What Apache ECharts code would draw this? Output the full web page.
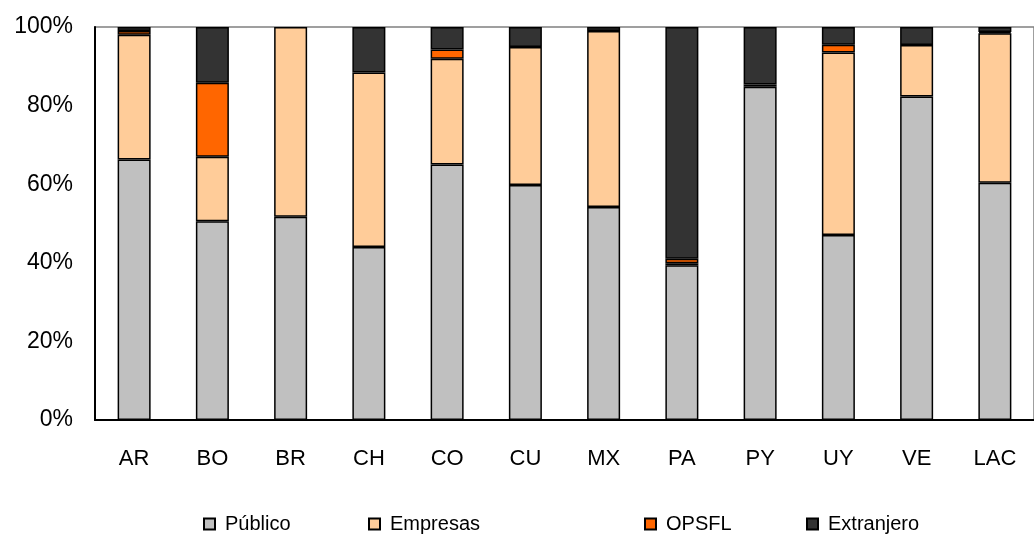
<!DOCTYPE html>
<html>
<head>
<meta charset="utf-8">
<script src="https://cdn.jsdelivr.net/npm/echarts@6/dist/echarts.min.js"></script>
<style>
html,body{margin:0;padding:0;background:#fff;}
#main{width:1034px;height:534px;}
</style>
</head>
<body>
<div id="main"></div>
<script>
const categories = ['AR','BO','BR','CH','CO','CU','MX','PA','PY','UY','VE','LAC'];
const publico    = [66.3, 50.6, 51.7, 44.0, 65.0, 59.8, 54.2, 39.4, 84.8, 47.1, 82.3, 60.4];
const empresas   = [31.7, 16.4, 48.3, 44.4, 26.9, 35.1, 44.8, 0.5, 0.6, 46.4, 13.1, 38.0];
const opsfl      = [1.0, 18.8, 0, 0, 2.4, 0, 0, 1.1, 0, 2.0, 0, 0.3];
const extranjero = [1.0, 14.2, 0, 11.6, 5.7, 5.1, 1.0, 59.0, 14.6, 4.5, 4.6, 1.3];
const seriesNames = ['Público','Empresas','OPSFL','Extranjero'];
const yTicks = [0, 20, 40, 60, 80, 100];

const colors = ['#C0C0C0','#FFCC99','#FF6600','#333333'];
const allData = [publico, empresas, opsfl, extranjero];
const legendLefts = [203, 368, 644, 806];
const font = 'Liberation Sans, Arial, sans-serif';

const chart = echarts.init(document.getElementById('main'), null, {renderer:'canvas'});
chart.setOption({
  animation: false,
  backgroundColor: '#fff',
  grid: {
    left: 95, top: 27, width: 948, bottom: 114,
    show: true, borderColor: '#808080', borderWidth: 1.5, backgroundColor: 'transparent'
  },
  legend: seriesNames.map((n, i) => ({
    data: [n],
    left: legendLefts[i],
    top: 514,
    icon: 'rect',
    itemWidth: 11,
    itemHeight: 11,
    padding: 0,
    textStyle: {fontFamily: font, fontSize: 20, color: '#000', padding: [0,0,0,5]},
    selectedMode: false
  })),
  xAxis: {
    type: 'category',
    data: categories,
    axisLine: {lineStyle: {color: '#000', width: 2}},
    axisTick: {show: false},
    axisLabel: {fontFamily: font, fontSize: 22, color: '#000', margin: 28},
    splitLine: {show: false}
  },
  yAxis: {
    type: 'value',
    min: yTicks[0], max: yTicks[yTicks.length-1], interval: 20,
    axisLine: {show: true, lineStyle: {color: '#000', width: 2}},
    axisTick: {show: false},
    splitLine: {show: false},
    axisLabel: {fontFamily: font, fontSize: 23, color: '#000', margin: 22, formatter: '{value}%'}
  },
  series: seriesNames.map((n, i) => ({
    name: n,
    type: 'bar',
    stack: 'total',
    barWidth: 33,
    data: allData[i].map(v => v === 0 ? null : v),
    itemStyle: {color: colors[i], borderColor: '#000', borderWidth: 1.5}
  }))
});
</script>
</body>
</html>
